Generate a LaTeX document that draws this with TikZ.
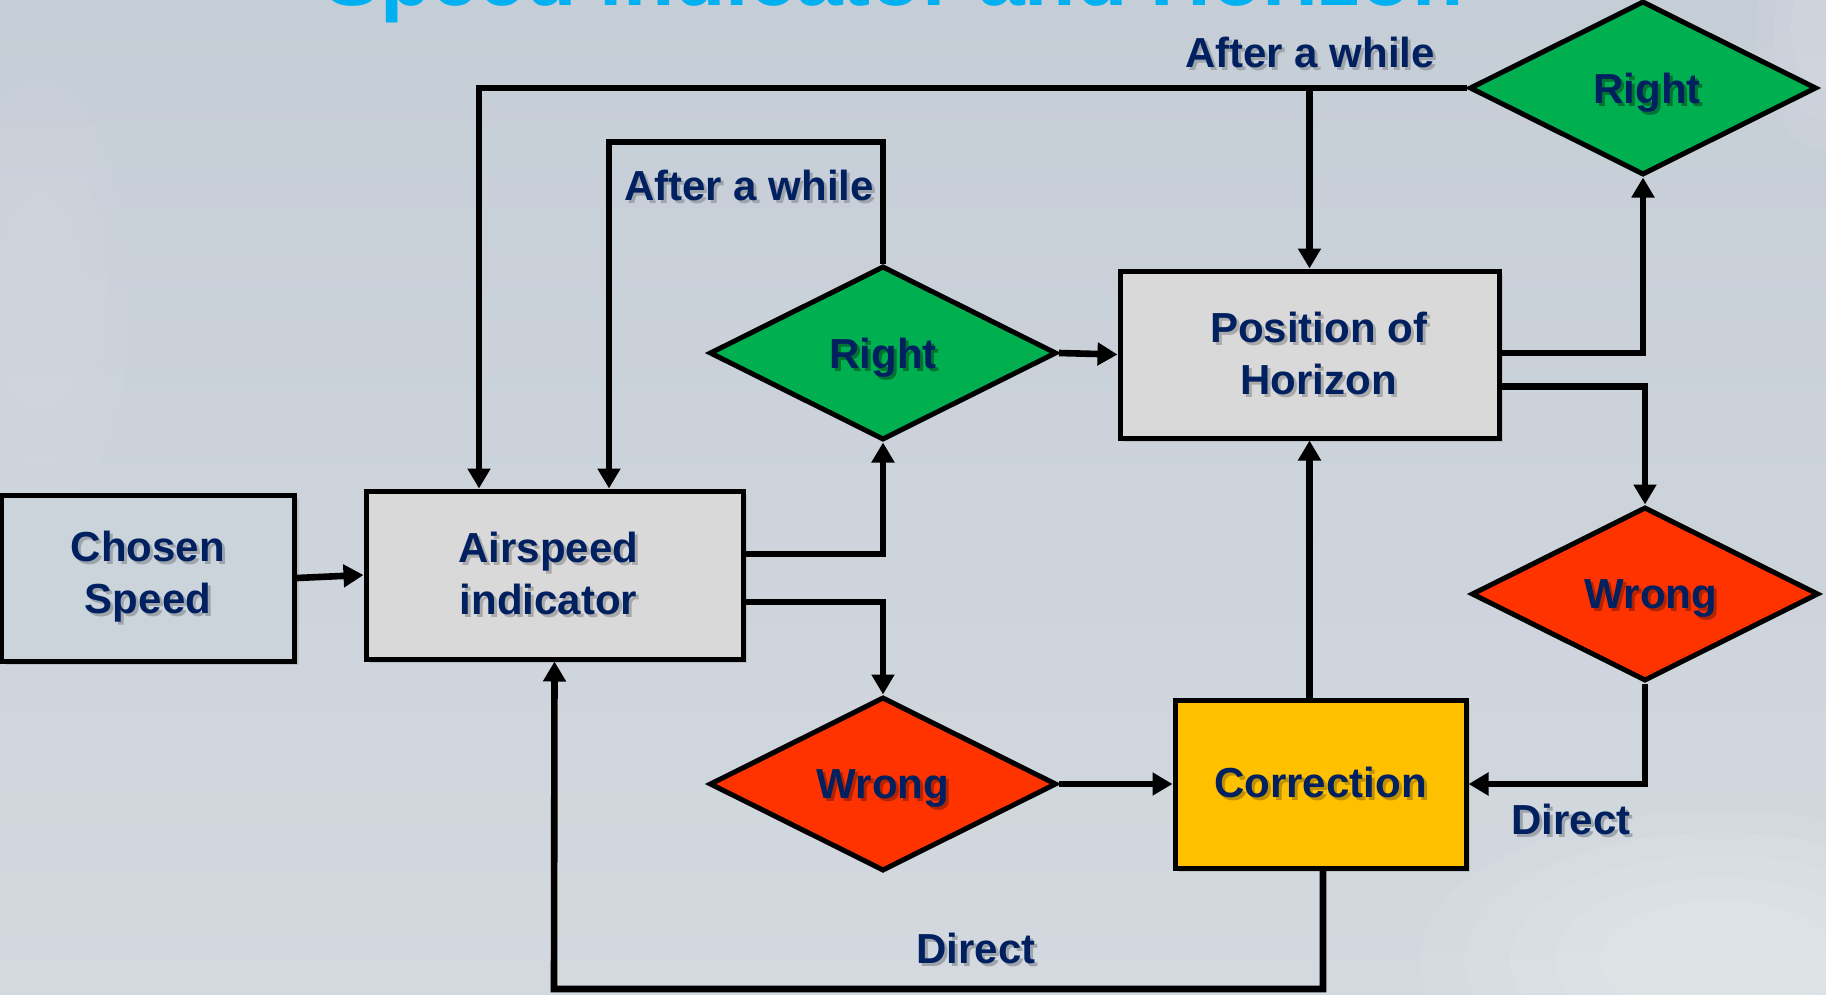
\documentclass[tikz,border=0pt]{standalone}
\usepackage{fontspec}
\setmainfont{Liberation Sans}
\usetikzlibrary{shapes.geometric,arrows.meta,shadows,calc}

\definecolor{navy}{HTML}{002060}
\definecolor{titleblue}{HTML}{00B0F0}
\definecolor{boxgrey}{HTML}{D9D9D9}
\definecolor{okgreen}{HTML}{00B050}
\definecolor{badred}{HTML}{FF3300}
\definecolor{amber}{HTML}{FFC000}
\definecolor{skytop}{HTML}{C5CDD6}
\definecolor{skybot}{HTML}{D3D9DF}
\definecolor{skymid}{HTML}{CBD3DB}
\colorlet{shdbg}{black!22!skymid}
\colorlet{shdgreen}{black!35!okgreen}
\colorlet{shdred}{black!30!badred}
\colorlet{shdamber}{black!25!amber}
\colorlet{shdgrey}{black!22!boxgrey}

% text with a soft offset shadow behind it
\newcommand\shd[2][shdbg]{\makebox[0pt][l]{\hspace{1.5pt}\raisebox{-1.5pt}{\textcolor{#1}{#2}}}#2}

\begin{document}
\begin{tikzpicture}[x=0.5pt,y=-0.5pt,
  lbl/.style={text=navy,font=\fontsize{21}{26}\selectfont\bfseries,align=center,inner sep=0pt},
  boxnode/.style={lbl,rectangle,draw=black,line width=2.5pt,
    drop shadow={shadow xshift=2pt,shadow yshift=-2pt,opacity=0.25}},
  decision/.style={lbl,diamond,shape aspect=2,draw=black,line width=2.5pt,
    minimum width=173.5pt,minimum height=87pt,text depth=0pt},
  conn/.style={line width=3.3pt,-{Triangle[length=10pt,width=11pt]}}]

\useasboundingbox (0,0) rectangle (1826,995);
\clip (0,0) rectangle (1826,995);

% sky with soft light patches
\shade[top color=skytop,bottom color=skybot] (0,0) rectangle (1826,995);
\foreach \r in {1,0.85,0.7,0.55,0.4}{
  \fill[white,opacity=0.07] (1720,960) ellipse ({300*\r} and {150*\r});
}
\foreach \r in {1,0.75,0.5}{
  \fill[white,opacity=0.06] (1826,30) ellipse ({70*\r} and {120*\r});
  \fill[white,opacity=0.04] (40,300) ellipse ({90*\r} and {220*\r});
}

% heading
\node[anchor=base,text=titleblue,font=\fontsize{42}{48}\selectfont\bfseries,inner sep=0pt]
  (title) at (894,6) {Speed indicator and Horizon};

% blocks
\node[boxnode,fill=skymid,minimum width=146.5pt,minimum height=83pt] (speed) at (148,578)
  {\shd{Chosen}\\\shd{Speed}};
\node[boxnode,fill=boxgrey,minimum width=188.5pt,minimum height=84pt] (air) at (554.5,575)
  {\shd[shdgrey]{Airspeed}\hspace*{6pt}\\\shd[shdgrey]{indicator}\hspace*{6pt}};
\node[boxnode,fill=boxgrey,minimum width=189.5pt,minimum height=83.5pt] (pos) at (1309.5,354.5)
  {\hspace*{9pt}\shd[shdgrey]{Position of}\\\hspace*{9pt}\shd[shdgrey]{Horizon}};
\node[boxnode,fill=amber,minimum width=145.5pt,minimum height=84pt] (corr) at (1320.5,784)
  {\shd[shdamber]{Correction}};

\node[decision,fill=okgreen] (right1) at (883,353) {\shd[shdgreen]{Right}};
\node[decision,fill=okgreen] (right2) at (1643,88) {\hspace*{4pt}\shd[shdgreen]{Right}};
\node[decision,fill=badred] (wrong1) at (883,784) {\shd[shdred]{Wrong}};
\node[decision,fill=badred] (wrong2) at (1645,594) {\hspace*{6pt}\shd[shdred]{Wrong}};

% routing points
\coordinate (loopA) at (609,142);
\coordinate (loopB) at (479,88);
\coordinate (loopC) at (554,989);

% connectors
\draw[conn] (speed.east) -- (air.west);
\draw[conn] ([yshift=10.5pt]air.east) -| (right1.south);
\draw[conn] ([yshift=-13.5pt]air.east) -| (wrong1.north);
\draw[conn] (right1.east) -- (pos.west);
\draw[conn] (right1.north) |- (loopA) -- (loopA |- air.north);
\draw[conn] (right2.west) -- (loopB) -- (loopB |- air.north);
\draw[conn] (pos.north |- right2.west) -- (pos.north);
\draw[conn] ([yshift=0.75pt]pos.east) -| (right2.south);
\draw[conn] ([yshift=-16pt]pos.east) -| (wrong2.north);
\draw[conn] (wrong2.south) |- (corr.east);
\draw[conn] (wrong1.east) -- (corr.west);
\draw[conn] (pos.south |- corr.north) -- (pos.south);
\draw[conn] ([xshift=1.25pt]corr.south) |- (loopC) -- (air.south);

% edge labels
\node[lbl] (lblA) at (1310,54) {\shd{After a while}};
\node[lbl] (lblB) at (749,187) {\shd{After a while}};
\node[lbl] (lblC) at (1571,821) {\shd{Direct}};
\node[lbl] (lblD) at (976,950) {\shd{Direct}};

\end{tikzpicture}
\end{document}
